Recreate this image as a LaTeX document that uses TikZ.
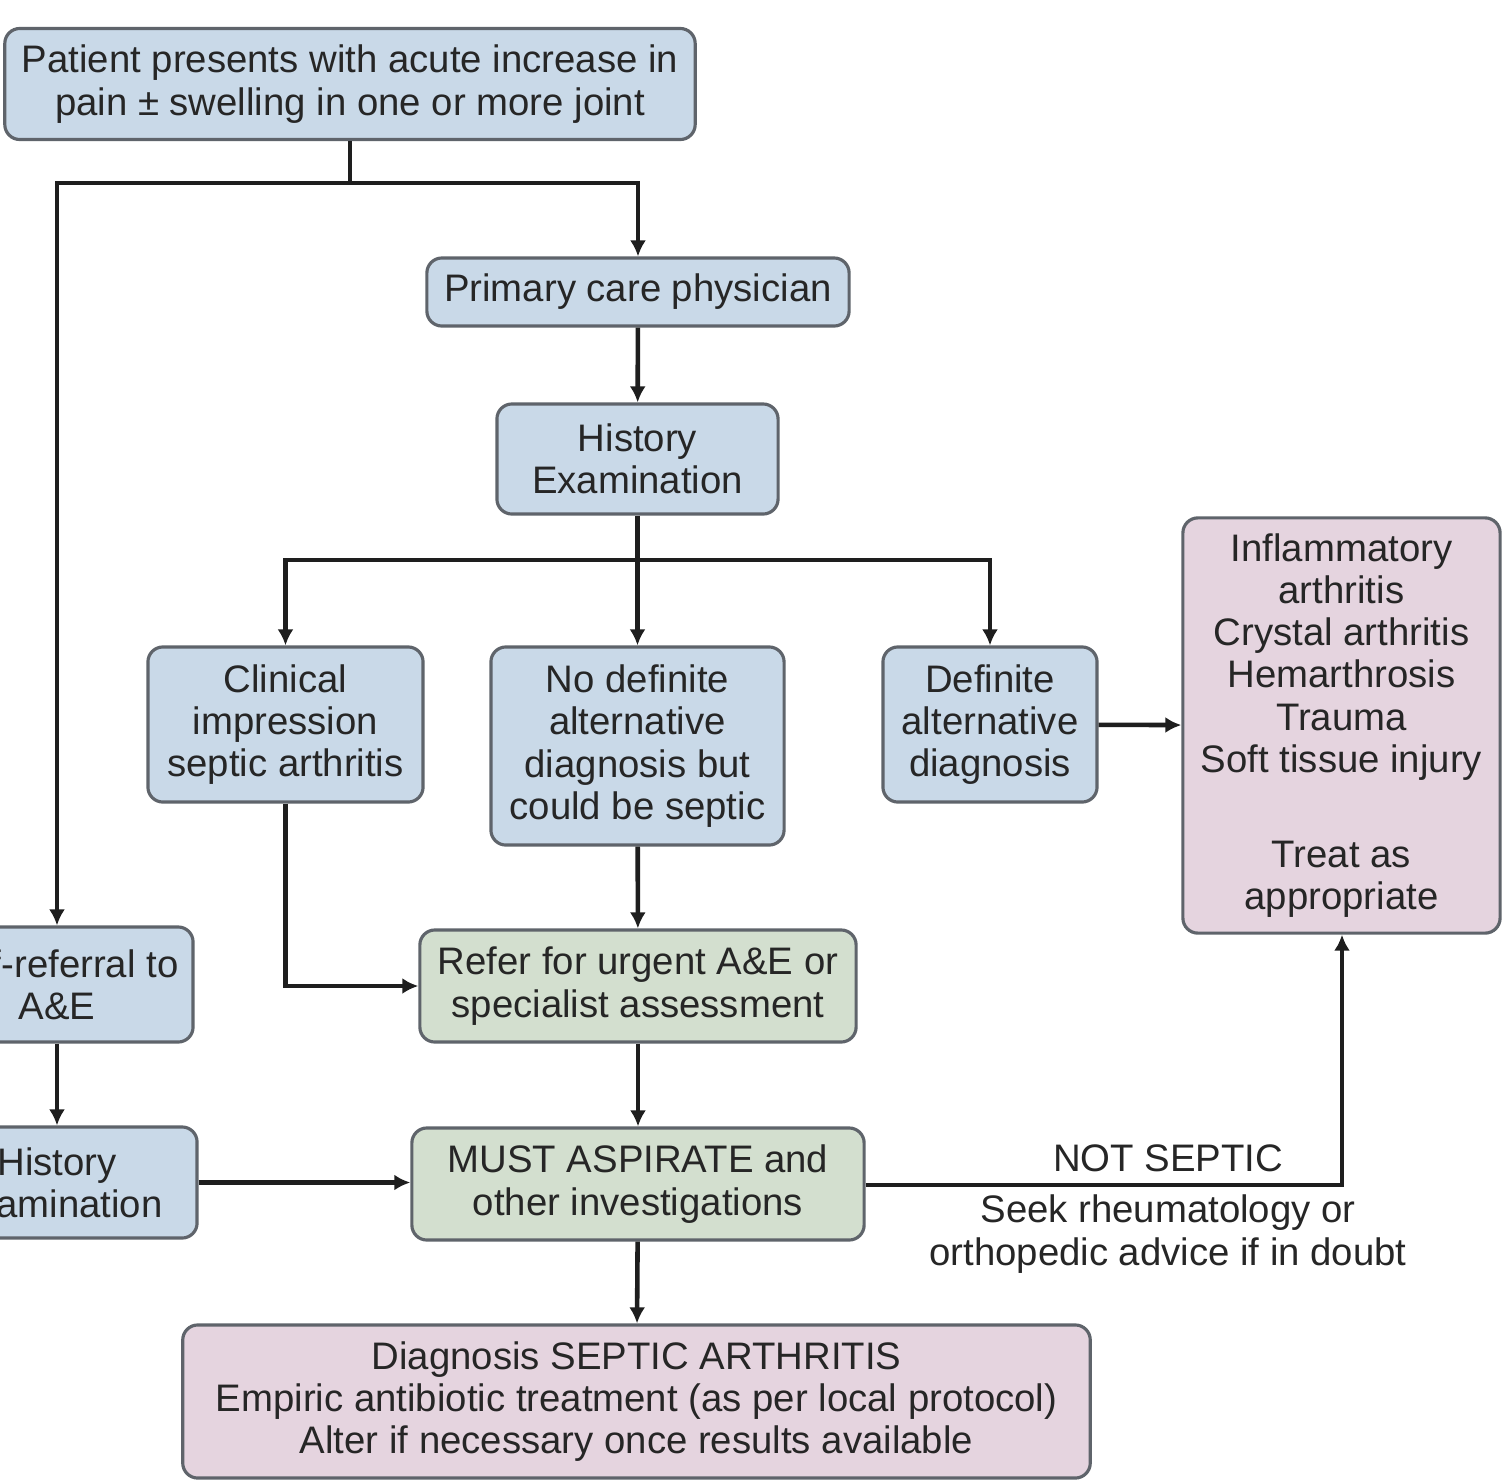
\documentclass[tikz,border=0pt]{standalone}
\usepackage{fontspec}
\setmainfont{Liberation Sans}
\usetikzlibrary{arrows.meta}
\definecolor{bluefill}{HTML}{C9D9E8}
\definecolor{greenfill}{HTML}{D3DFCF}
\definecolor{pinkfill}{HTML}{E5D4DF}
\definecolor{boxline}{HTML}{5F646B}
\definecolor{conn}{HTML}{1E1E1E}
\definecolor{txt}{HTML}{262626}
\tikzset{
  box/.style={draw=boxline, line width=0.9pt, rounded corners=0.15cm, inner sep=0pt,
    align=center, text=txt, font=\fontsize{10.9}{12}\selectfont},
  bluebox/.style={box, fill=bluefill},
  greenbox/.style={box, fill=greenfill},
  pinkbox/.style={box, fill=pinkfill},
  conline/.style={draw=conn, line width=1.3pt},
  arr/.style={conline, -{Latex[length=0.16cm, width=0.16cm]}},
  lbl/.style={text=txt, align=center, inner sep=0pt, font=\fontsize{10.9}{12}\selectfont}
}
\begin{document}
\begin{tikzpicture}[x=0.01cm, y=-0.01cm]
\useasboundingbox (0,0) rectangle (1502,1481);
\clip (0,0) rectangle (1502,1481);
\fill[white] (0,0) rectangle (1502,1481);

\node[bluebox, minimum width=6.9cm, minimum height=1.11cm] (top) at (350,84)
  {Patient presents with acute increase in\\pain ± swelling in one or more joint};
\node[bluebox, minimum width=4.22cm, minimum height=0.68cm] (pcp) at (638,292)
  {Primary care physician};
\node[bluebox, minimum width=2.81cm, minimum height=1.10cm] (hist) at (637.5,459)
  {History\\Examination};
\node[bluebox, minimum width=2.75cm, minimum height=1.55cm] (clin) at (285.5,724.5)
  {Clinical\\impression\\septic arthritis};
\node[bluebox, minimum width=2.93cm, minimum height=1.98cm] (nodef) at (637.5,746)
  {No definite\\alternative\\diagnosis but\\could be septic};
\node[bluebox, minimum width=2.14cm, minimum height=1.55cm] (defalt) at (990,724.5)
  {Definite\\alternative\\diagnosis};
\node[pinkbox, minimum width=3.17cm, minimum height=4.15cm] (alt) at (1341.5,725.5)
  {Inflammatory\\arthritis\\Crystal arthritis\\Hemarthrosis\\Trauma\\Soft tissue injury\\[15pt]Treat as\\appropriate};
\node[greenbox, minimum width=4.36cm, minimum height=1.12cm] (refer) at (638,986)
  {Refer for urgent A\&E or\\specialist assessment};
\node[bluebox, minimum width=2.72cm, minimum height=1.15cm] (self) at (57,984.5)
  {Self-referral to\\A\&E};
\node[bluebox, minimum width=2.80cm, minimum height=1.11cm] (hist2) at (57,1182.5)
  {History\\Examination};
\node[greenbox, minimum width=4.52cm, minimum height=1.12cm] (must) at (638,1184)
  {MUST ASPIRATE and\\other investigations};
\node[pinkbox, minimum width=9.07cm, minimum height=1.53cm] (diag) at (636.5,1401.5)
  {Diagnosis SEPTIC ARTHRITIS\\Empiric antibiotic treatment (as per local protocol)\\Alter if necessary once results available};

\coordinate (j1) at (350,183);
\coordinate (j2) at (637.5,560);
\coordinate (bend) at (1342,1185);

\draw[conline] (top.south) -- (j1);
\draw[arr] (j1) -| (self.north);
\draw[arr] (j1) -| (pcp.north);
\draw[arr] (pcp) -- (hist);
\draw[conline] (hist.south) -- (j2);
\draw[arr] (j2) -| (clin.north);
\draw[arr] (j2) -- (nodef.north);
\draw[arr] (j2) -| (defalt.north);
\draw[arr] (defalt) -- (alt);
\draw[arr] (nodef) -- (refer);
\draw[arr] (clin.south) |- (refer.west);
\draw[arr] (self) -- (hist2);
\draw[arr] (hist2.east) -- (hist2.east -| must.west);
\draw[arr] (refer) -- (must);
\draw[arr] (must) -- (diag);
\draw[arr] (must.east |- bend) -- (bend) -- (alt.south -| bend);

\node[lbl] (ns) at (1168,1158) {NOT SEPTIC};
\node[lbl] (seek) at (1168,1234) {Seek rheumatology or\\orthopedic advice if in doubt};
\end{tikzpicture}
\end{document}
